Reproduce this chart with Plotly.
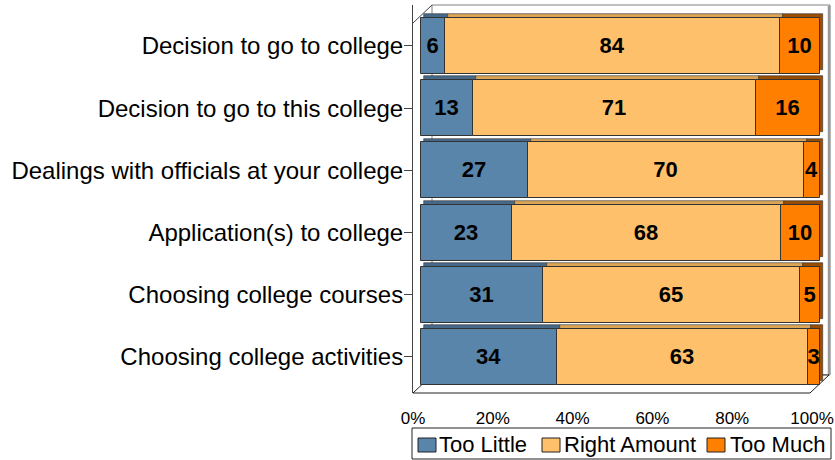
import plotly.graph_objects as go

rows = ["Decision to go to college", "Decision to go to this college",
        "Dealings with officials at your college", "Application(s) to college",
        "Choosing college courses", "Choosing college activities"]
too_little = [6, 13, 27, 23, 31, 34]
right_amount = [84, 71, 70, 68, 65, 63]
too_much = [10, 16, 4, 10, 5, 3]
series_names = ["Too Little", "Right Amount", "Too Much"]
tick_vals = [0, 20, 40, 60, 80, 100]
tick_text = ["0%", "20%", "40%", "60%", "80%", "100%"]

front_colors = ["#5A85AA", "#FFC06B", "#FF8000"]
depth_colors = ["#46698A", "#DCA555", "#9A4C00"]
FONT = "Liberation Sans, Arial, sans-serif"

series = [too_little, right_amount, too_much]
totals = [sum(s[i] for s in series) for i in range(len(rows))]
pct = [[s[i] / totals[i] * 100 for i in range(len(rows))] for s in series]
bases = []
run = [0.0] * len(rows)
for p in pct:
    bases.append(run[:])
    run = [run[i] + p[i] for i in range(len(rows))]

ypos = list(range(len(rows)))
DX = 0.8     # depth shift in x units (~3 px)
DY = 0.06    # depth shift in row units (~4 px)

fig = go.Figure()
# depth (3D) copies
for k in range(3):
    fig.add_trace(go.Bar(
        orientation="h", y=[v - DY for v in ypos], x=pct[k],
        base=[b + DX for b in bases[k]], width=0.9,
        marker=dict(color=depth_colors[k], line=dict(color="#333333", width=0.6)),
        showlegend=False, hoverinfo="skip"))
# front faces
for k in range(3):
    fig.add_trace(go.Bar(
        orientation="h", y=ypos, x=pct[k], base=bases[k], width=0.9,
        name=series_names[k], customdata=series[k],
        texttemplate="<b>%{customdata}</b>", textposition="inside",
        insidetextanchor="middle", constraintext="none",
        textfont=dict(family=FONT, size=22, color="black"),
        marker=dict(color=front_colors[k], line=dict(color="#333333", width=1)),
        showlegend=False))

L, R, T, B = 413, 5, 5, 67
W, H = 835, 460
pw = W - L - R
ph = H - T - B

def px(x):
    return (x - L) / pw

def py(y):
    return (H - B - y) / ph

gray = "#808080"
shapes = [
    # back wall
    dict(type="rect", xref="paper", yref="paper", x0=px(432), x1=px(830), y0=py(375), y1=py(5),
         line=dict(color=gray, width=1), layer="below"),
    dict(type="line", xref="paper", yref="paper", x0=px(829), x1=px(829), y0=py(375), y1=py(6),
         line=dict(color="#999999", width=2.5), layer="below"),
    # left wall top diagonal
    dict(type="line", xref="paper", yref="paper", x0=px(413), y0=py(23), x1=px(432), y1=py(5),
         line=dict(color="#444444", width=1), layer="below"),
    # floor
    dict(type="path", xref="paper", yref="paper", layer="below",
         path=f"M{px(413)},{py(393)} L{px(810)},{py(393)} L{px(829)},{py(375)} L{px(432)},{py(375)} Z",
         fillcolor="white", line=dict(color="#222222", width=1)),
]

# legend (drawn as shapes + text)
legend_box = dict(type="rect", xref="paper", yref="paper", x0=px(412), x1=px(831),
                  y0=py(459), y1=py(428), line=dict(color="#222222", width=1),
                  fillcolor="white")
shapes.append(legend_box)
legend_sq_x = [418, 542, 707]
legend_tx_x = [437, 562, 728]
annotations = []
for k in range(3):
    shapes.append(dict(type="rect", xref="paper", yref="paper",
                       x0=px(legend_sq_x[k]), x1=px(legend_sq_x[k] + 18),
                       y0=py(452), y1=py(438), fillcolor=front_colors[k],
                       line=dict(color="#222222", width=1)))
    annotations.append(dict(xref="paper", yref="paper", x=px(legend_tx_x[k]), y=py(444),
                            xanchor="left", yanchor="middle", showarrow=False,
                            text=series_names[k], font=dict(size=22, family=FONT, color="black")))

fig.update_layout(
    width=W, height=H,
    margin=dict(l=L, r=R, t=T, b=B),
    paper_bgcolor="white", plot_bgcolor="rgba(0,0,0,0)",
    barmode="overlay", bargap=0,
    font=dict(family=FONT, color="black"),
    shapes=shapes, annotations=annotations,
    showlegend=False,
    xaxis=dict(range=[-2.005, 102.506], showticklabels=False, showgrid=False,
               zeroline=False, showline=False, ticks="", automargin=False),
    xaxis2=dict(overlaying="x", anchor="y", side="bottom", range=[0, 104.51],
                tickvals=tick_vals, ticktext=tick_text, showgrid=False, zeroline=False,
                showline=False, ticks="outside", ticklen=10, tickcolor="rgba(0,0,0,0)",
                tickfont=dict(size=17, family=FONT, color="black"), automargin=False),
    yaxis=dict(range=[5.579, -0.659], tickvals=ypos, ticktext=rows,
               showgrid=False, zeroline=False, showline=True, linecolor="#444444",
               linewidth=1, ticks="outside", ticklen=8, tickcolor="#444444",
               ticklabelstandoff=-4,
               tickfont=dict(size=24, family=FONT, color="black"), automargin=False),
)
fig.add_trace(go.Scatter(x=[None], y=[None], xaxis="x2", showlegend=False, hoverinfo="skip"))

fig.write_html("out.html", config={"displayModeBar": False},
               post_script="document.body.style.margin='0';document.body.style.overflow='hidden';")
